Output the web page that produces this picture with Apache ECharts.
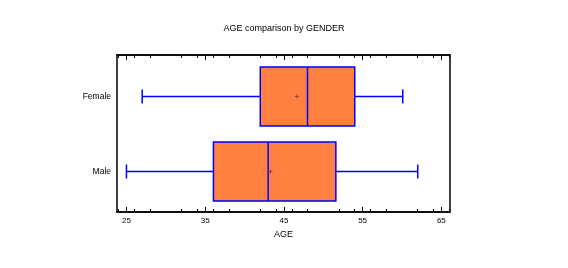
<!DOCTYPE html>
<html>
<head>
<meta charset="utf-8">
<script src="https://cdn.jsdelivr.net/npm/echarts@6/dist/echarts.min.js"></script>
<style>
  html, body { margin: 0; padding: 0; background: #fff; }
  #chart { width: 568px; height: 268px; }
</style>
</head>
<body>
<div id="chart"></div>
<script>
var genders = ['Male', 'Female']
// [min, Q1, median, Q3, max]
var boxStats = [
  [25, 36.05, 43.0, 51.6, 62.0],
  [27.0, 42.0, 48.0, 54.0, 60.1]
]
var means = [43.3, 46.65]
var xTicks = [25, 35, 45, 55, 65]

var chart = echarts.init(document.getElementById('chart'))

var boxData = boxStats.map(function (s, i) {
  return [i].concat(s).concat([means[i]])
})

function renderBox (params, api) {
  var cat = api.value(0)
  var band = api.size([0, 1])[1]
  var half = band * 0.393
  var cap = 7
  var pMin = api.coord([api.value(1), cat])
  var pQ1 = api.coord([api.value(2), cat])
  var pMed = api.coord([api.value(3), cat])
  var pQ3 = api.coord([api.value(4), cat])
  var pMax = api.coord([api.value(5), cat])
  var pMean = api.coord([api.value(6), cat])
  var y = pMin[1]
  var line = { stroke: '#0000ff', lineWidth: 1.5 }
  var mark = { stroke: '#8a4a3a', lineWidth: 1 }
  var kids = [
    { type: 'line', shape: { x1: pMin[0], y1: y, x2: pQ1[0], y2: y }, style: line },
    { type: 'line', shape: { x1: pQ3[0], y1: y, x2: pMax[0], y2: y }, style: line },
    { type: 'line', shape: { x1: pMin[0], y1: y - cap, x2: pMin[0], y2: y + cap }, style: line },
    { type: 'line', shape: { x1: pMax[0], y1: y - cap, x2: pMax[0], y2: y + cap }, style: line },
    {
      type: 'rect',
      shape: { x: pQ1[0], y: y - half, width: pQ3[0] - pQ1[0], height: half * 2 },
      style: { fill: '#ff8040', stroke: '#0000ff', lineWidth: 1.5 }
    },
    { type: 'line', shape: { x1: pMed[0], y1: y - half, x2: pMed[0], y2: y + half }, style: line },
    { type: 'line', shape: { x1: pMean[0] - 2, y1: y, x2: pMean[0] + 2, y2: y }, style: mark },
    { type: 'line', shape: { x1: pMean[0], y1: y - 2, x2: pMean[0], y2: y + 2 }, style: mark }
  ]
  return { type: 'group', children: kids }
}

var xMin = 23.8
var xMax = 66.1
var tickFont = { fontFamily: 'Liberation Sans', fontSize: 8, color: '#000' }

var options = {
  animation: false,
  title: {
    text: 'AGE comparison by GENDER',
    left: 'center',
    top: 19,
    textStyle: { fontFamily: 'Liberation Sans', fontSize: 9, fontWeight: 'normal', color: '#000' }
  },
  grid: [{
    left: 117, right: 118, top: 55, bottom: 56,
    show: true, borderColor: '#000', borderWidth: 1.5
  }, {
    left: 117, right: 118, top: 59, bottom: 59
  }],
  xAxis: [{
    type: 'value',
    gridIndex: 0,
    position: 'bottom',
    min: xMin,
    max: xMax,
    name: 'AGE',
    nameLocation: 'middle',
    nameGap: 16,
    nameTextStyle: { fontFamily: 'Liberation Sans', fontSize: 9, color: '#000' },
    axisLine: { show: true, lineStyle: { color: '#000', width: 1.5 } },
    axisTick: { show: true, inside: true, length: 5, lineStyle: { color: '#000' }, customValues: xTicks },
    minorTick: { show: true, splitNumber: 5, length: 3, lineStyle: { color: '#000' } },
    axisLabel: Object.assign({ margin: 5, customValues: xTicks }, tickFont),
    splitLine: { show: false }
  }, {
    type: 'value',
    gridIndex: 0,
    position: 'top',
    min: xMin,
    max: xMax,
    axisLine: { show: true, lineStyle: { color: '#000', width: 1.5 } },
    axisTick: { show: true, inside: true, length: 5, lineStyle: { color: '#000' }, customValues: xTicks },
    minorTick: { show: true, splitNumber: 5, length: 3, lineStyle: { color: '#000' } },
    axisLabel: { show: false },
    splitLine: { show: false }
  }, {
    type: 'value',
    gridIndex: 1,
    min: xMin,
    max: xMax,
    show: false
  }],
  yAxis: [{
    type: 'value',
    gridIndex: 0,
    show: false
  }, {
    type: 'category',
    gridIndex: 1,
    data: genders,
    axisLine: { show: false },
    axisTick: { show: false },
    axisLabel: { fontFamily: 'Liberation Sans', fontSize: 8.5, color: '#000', margin: 6 }
  }],
  series: [{
    type: 'custom',
    xAxisIndex: 2,
    yAxisIndex: 1,
    renderItem: renderBox,
    encode: { x: [1, 2, 3, 4, 5, 6], y: 0 },
    data: boxData
  }]
}

chart.setOption(options)
</script>
</body>
</html>
